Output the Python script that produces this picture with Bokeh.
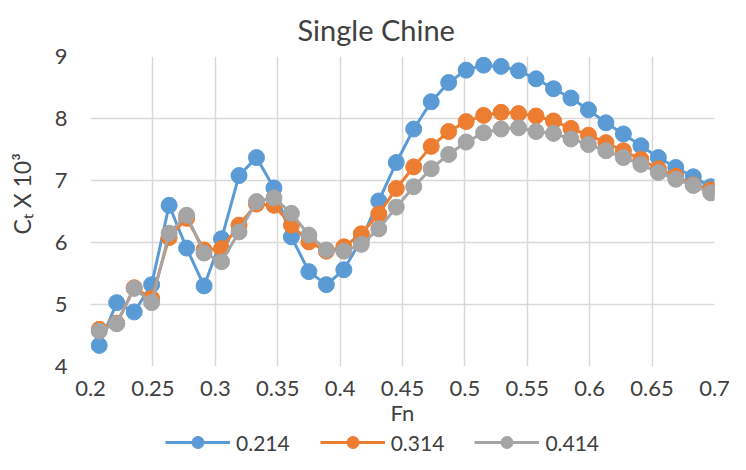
from bokeh.plotting import figure
from bokeh.layouts import column
from bokeh.models import Legend, LegendItem, FixedTicker, Range1d
from bokeh.embed import file_html
from bokeh.resources import INLINE

# ---- data ----
fn = [0.207, 0.221, 0.235, 0.249, 0.263, 0.277, 0.291, 0.305, 0.319, 0.333,
      0.347, 0.361, 0.375, 0.389, 0.403, 0.417, 0.431, 0.445, 0.459, 0.473,
      0.487, 0.501, 0.515, 0.529, 0.543, 0.557, 0.571, 0.585, 0.599, 0.613,
      0.627, 0.641, 0.655, 0.669, 0.683, 0.697]

ct_0214 = [4.34, 5.03, 4.88, 5.32, 6.60, 5.91, 5.30, 6.06, 7.08, 7.37,
           6.88, 6.09, 5.53, 5.32, 5.56, 6.05, 6.67, 7.29, 7.83, 8.27,
           8.58, 8.78, 8.86, 8.84, 8.77, 8.64, 8.48, 8.33, 8.14, 7.93,
           7.75, 7.56, 7.37, 7.21, 7.06, 6.90]

ct_0314 = [4.60, 4.70, 5.27, 5.10, 6.08, 6.39, 5.88, 5.90, 6.28, 6.62,
           6.60, 6.28, 6.01, 5.86, 5.93, 6.14, 6.46, 6.87, 7.22, 7.55,
           7.79, 7.95, 8.05, 8.10, 8.08, 8.04, 7.96, 7.84, 7.73, 7.61,
           7.48, 7.34, 7.19, 7.07, 6.93, 6.85]

ct_0414 = [4.57, 4.69, 5.26, 5.03, 6.15, 6.44, 5.83, 5.69, 6.17, 6.66,
           6.72, 6.47, 6.12, 5.88, 5.86, 5.97, 6.22, 6.57, 6.90, 7.19,
           7.42, 7.62, 7.77, 7.83, 7.85, 7.79, 7.76, 7.67, 7.58, 7.48,
           7.37, 7.26, 7.13, 7.02, 6.92, 6.80]

series_names = ["0.214", "0.314", "0.414"]
series_values = [ct_0214, ct_0314, ct_0414]
series_colors = ["#5B9BD5", "#ED7D31", "#A5A5A5"]

x_ticks = [0.2, 0.25, 0.3, 0.35, 0.4, 0.45, 0.5, 0.55, 0.6, 0.65, 0.7]
x_tick_labels = ["0.2", "0.25", "0.3", "0.35", "0.4", "0.45", "0.5", "0.55", "0.6", "0.65", "0.7"]
y_ticks = [4, 5, 6, 7, 8, 9]
y_tick_labels = ["4", "5", "6", "7", "8", "9"]

title_text = "Single Chine"
x_label = "Fn"
y_label = "\u00a0\u00a0\u00a0\u00a0\u00a0\u00a0C\u209c X 10\u00b3"

FONT = "Lato"
TXT = "#404040"

H_MAIN = 429
H_LEG = 25

p = figure(width=730, height=H_MAIN,
           x_range=Range1d(0.2, 0.7), y_range=Range1d(4, 9),
           output_backend="svg", toolbar_location=None,
           min_border_left=90, min_border_right=16,
           min_border_top=53, min_border_bottom=H_MAIN - 366)
p.outline_line_color = None

p.title.text = title_text
p.title.align = "left"
p.title.offset = 207
p.title.text_font = FONT
p.title.text_font_size = "29px"
p.title.text_font_style = "normal"
p.title.text_color = TXT
p.title.standoff = 19

p.xaxis.ticker = FixedTicker(ticks=x_ticks)
p.yaxis.ticker = FixedTicker(ticks=y_ticks)
p.xaxis.major_label_overrides = {t: l for t, l in zip(x_ticks, x_tick_labels)}
p.yaxis.major_label_overrides = {t: l for t, l in zip(y_ticks, y_tick_labels)}

for ax in (p.xaxis, p.yaxis):
    ax.axis_line_color = None
    ax.major_tick_line_color = None
    ax.minor_tick_line_color = None
    ax.major_tick_out = 0
    ax.major_tick_in = 0
    ax.major_label_text_font = FONT
    ax.major_label_text_font_size = "22px"
    ax.major_label_text_color = TXT
    ax.axis_label_text_font = FONT
    ax.axis_label_text_font_style = "normal"
    ax.axis_label_text_color = TXT

p.xaxis.major_label_standoff = 14
p.yaxis.major_label_standoff = 23

p.xaxis.axis_label = x_label
p.xaxis.axis_label_text_font_size = "22px"
p.xaxis.axis_label_standoff = 0

p.yaxis.axis_label = y_label
p.yaxis.axis_label_text_font_size = "23px"
p.yaxis.axis_label_standoff = 16

for g in (p.xgrid, p.ygrid):
    g.grid_line_color = "#D9D9D9"
    g.grid_line_width = 1.5

for vals, col in zip(series_values, series_colors):
    p.line(fn, vals, line_color=col, line_width=3)
    p.scatter(fn, vals, size=16, fill_color=col, line_color=col, line_width=1)

# ---- legend strip below the chart (series drawn out of view, legend only) ----
pl = figure(width=730, height=H_LEG, x_range=Range1d(0, 1), y_range=Range1d(0, 1),
            output_backend="svg", toolbar_location=None,
            x_axis_location=None, y_axis_location=None,
            min_border_left=0, min_border_right=0, min_border_top=0, min_border_bottom=0)
pl.outline_line_color = None
pl.grid.grid_line_color = None

items = []
for name, vals, col in zip(series_names, series_values, series_colors):
    r1 = pl.line(fn, vals, line_color=col, line_width=3)
    r2 = pl.scatter(fn, vals, size=12, fill_color=col, line_color=col)
    items.append(LegendItem(label=name, renderers=[r1, r2]))

legend = Legend(items=items, location=(75, -3), orientation="horizontal",
                glyph_width=65, glyph_height=30, label_height=20,
                label_standoff=6, spacing=30, padding=0, margin=0,
                border_line_color=None, background_fill_alpha=0,
                label_text_font=FONT, label_text_font_size="21px",
                label_text_color=TXT)
pl.add_layout(legend)

layout = column(p, pl, spacing=0)
open("out.html", "w").write(file_html(layout, INLINE))
